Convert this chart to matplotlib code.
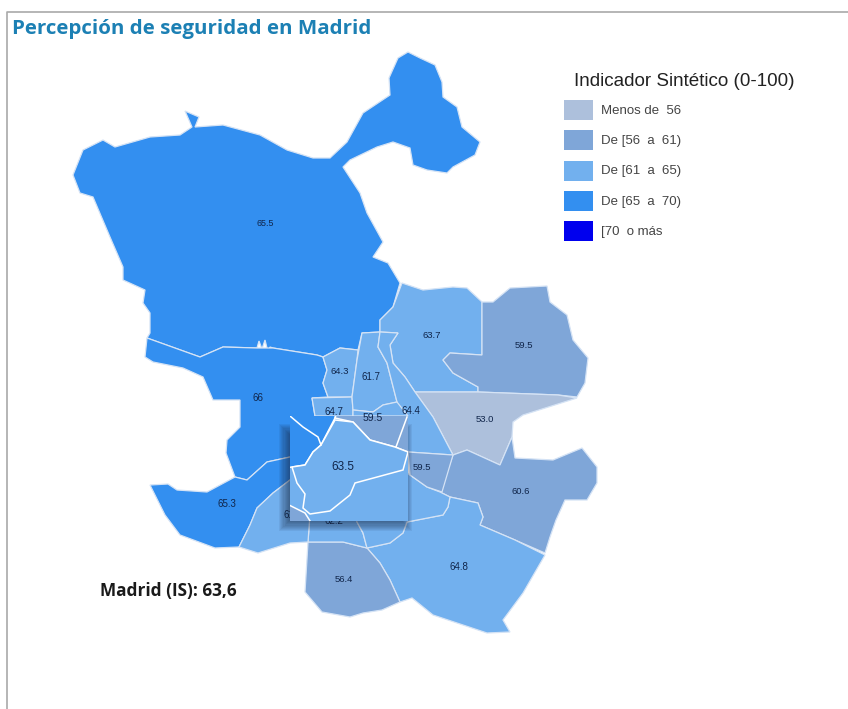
import matplotlib
matplotlib.use("Agg")
import matplotlib.pyplot as plt
from matplotlib.patches import Polygon, Rectangle

# class colours, lowest to highest
C_LOW = '#adc0dc'
C_MID = '#7fa6d8'
C_HIGH = '#72b0ee'
C_TOP = '#338ff0'
C_MAX = '#0000ee'

legend_colors = [C_LOW, C_MID, C_HIGH, C_TOP, C_MAX]
legend_labels = ['Menos de  56', 'De [56  a  61)', 'De [61  a  65)', 'De [65  a  70)', '[70  o más']

# district outlines, traced in picture pixels
fuencarral = [(73, 175), (83, 150), (103, 140), (115, 147), (150, 137), (180, 135), (192, 127), (185, 111),
              (199, 117), (195, 127), (223, 125), (260, 135), (287, 150), (313, 158), (330, 158), (347, 142),
              (363, 113), (390, 95), (389, 78), (398, 58), (408, 52), (420, 58), (435, 65), (442, 82),
              (443, 97), (457, 107), (462, 127), (480, 142), (475, 155), (453, 167), (447, 173), (427, 170),
              (413, 165), (410, 148), (393, 142), (377, 147), (350, 160), (343, 167), (360, 193), (367, 213),
              (383, 242), (373, 257), (388, 263), (400, 283), (393, 307), (380, 320), (380, 332), (362, 333),
              (358, 350), (340, 348), (323, 357), (317, 355), (273, 348), (270, 347), (268, 352), (265, 340),
              (262, 349), (259, 341), (257, 348), (223, 347), (200, 357), (147, 338), (150, 333), (150, 313),
              (143, 303), (145, 290), (123, 280), (123, 267), (110, 237), (93, 197), (80, 193)]
moncloa = [(147, 338), (200, 357), (223, 347), (257, 348), (273, 348), (317, 355), (323, 357), (327, 370),
           (323, 383), (328, 397), (312, 398), (315, 416), (335, 420), (321, 445), (313, 452), (305, 465),
           (290, 457), (267, 462), (247, 480), (235, 477), (226, 453), (227, 440), (240, 427), (240, 400),
           (213, 400), (203, 377), (183, 368), (153, 362), (145, 357)]
latina = [(150, 485), (168, 484), (177, 490), (207, 492), (235, 477), (247, 480), (267, 462), (290, 457),
          (305, 465), (292, 467), (297, 483), (290, 480), (273, 493), (257, 508), (250, 525), (239, 547),
          (215, 548), (180, 535), (165, 515)]
hortaleza = [(402, 283), (423, 290), (453, 287), (467, 288), (482, 302), (482, 355), (450, 353), (443, 360),
             (453, 373), (478, 387), (478, 392), (415, 392), (405, 377), (393, 363), (390, 345), (398, 333),
             (380, 332), (380, 320), (393, 307)]
barajas = [(482, 302), (493, 302), (510, 288), (547, 286), (550, 302), (567, 315), (573, 340), (588, 358),
           (585, 383), (577, 397), (558, 395), (478, 392), (478, 387), (453, 373), (443, 360), (450, 353),
           (482, 355)]
san_blas = [(415, 392), (478, 392), (558, 395), (577, 398), (523, 415), (513, 422), (512, 437), (500, 465),
            (467, 450), (453, 455), (433, 417)]
vicalvaro = [(453, 455), (467, 450), (500, 465), (512, 437), (515, 458), (553, 460), (582, 448), (597, 467),
             (597, 483), (587, 500), (565, 500), (556, 520), (550, 537), (545, 553), (515, 540), (480, 525),
             (483, 517), (478, 503), (450, 497), (440, 492)]
vallecas = [(450, 497), (448, 507), (443, 515), (407, 522), (403, 533), (390, 543), (367, 548), (380, 563),
            (390, 580), (400, 602), (412, 598), (433, 615), (463, 625), (487, 633), (510, 632), (503, 620),
            (523, 593), (545, 555), (515, 540), (480, 525), (483, 517), (478, 503)]
villaverde = [(308, 542), (343, 542), (367, 548), (380, 563), (390, 580), (400, 602), (382, 610), (363, 613),
              (350, 617), (322, 612), (305, 592)]
usera = [(330, 511), (350, 495), (357, 522), (363, 533), (367, 548), (343, 542), (308, 542), (310, 514)]
puente = [(350, 495), (355, 483), (403, 470), (410, 475), (427, 487), (440, 492), (450, 497), (448, 507),
          (443, 515), (407, 522), (403, 533), (390, 543), (367, 548), (363, 533), (357, 522)]
carabanchel = [(239, 547), (250, 525), (257, 508), (273, 493), (290, 480), (297, 483), (305, 494), (303, 508),
               (310, 514), (308, 542), (290, 543), (258, 553)]
tetuan = [(323, 357), (340, 348), (358, 350), (357, 360), (352, 397), (328, 397), (323, 383), (327, 370)]
chamberi = [(312, 398), (352, 397), (353, 410), (353, 416), (315, 416)]
chamartin = [(362, 333), (380, 332), (378, 347), (387, 363), (397, 402), (383, 405), (373, 412), (353, 410),
             (352, 397), (357, 360)]
ciudad_lineal = [(380, 332), (398, 333), (390, 345), (393, 363), (405, 377), (415, 392), (433, 417), (453, 455),
                 (408, 452), (397, 402), (387, 363), (378, 347)]
salamanca = [(353, 410), (373, 412), (383, 405), (397, 402), (408, 416), (353, 416)]
moratalaz = [(408, 452), (453, 455), (442, 492), (427, 487), (410, 475)]

# parts as they look inside the enlarged box
box_dark = [(285, 412), (337, 412), (335, 418), (321, 445), (313, 452), (305, 465), (292, 467), (285, 468)]
box_retiro = [(335, 418), (353, 422), (370, 440), (395, 447), (408, 452), (412, 452), (412, 412), (337, 412)]
box_centro = [(321, 445), (335, 420), (353, 422), (370, 440), (395, 447), (408, 452), (403, 470), (355, 483),
              (350, 495), (330, 511), (310, 514), (303, 508), (305, 494), (297, 483), (292, 467), (305, 465),
              (313, 452)]
box_corner = [(285, 503), (305, 513), (312, 524), (285, 524)]
box_lines = [[(290, 416), (303, 427), (318, 437), (321, 445)], [(407, 417), (396, 447)]]

districts = [fuencarral, moncloa, latina, hortaleza, barajas, san_blas, vicalvaro, vallecas, villaverde, usera,
             puente, carabanchel, tetuan, chamberi, chamartin, ciudad_lineal, salamanca, moratalaz]
district_colors = [C_TOP, C_TOP, C_TOP, C_HIGH, C_MID, C_LOW, C_MID, C_HIGH, C_MID, C_HIGH,
                   C_HIGH, C_HIGH, C_HIGH, C_HIGH, C_HIGH, C_HIGH, C_HIGH, C_MID]

# value labels under the box
value_labels = ['65.5', '66', '65.3', '63.7', '59.5', '53.0', '60.6', '64.8', '56.4', '62.2', '61.7', '64.3',
                '64.7', '61.7', '64.4', '59.5']
value_x = [265, 258, 227, 432, 524, 485, 521, 459, 344, 334, 293, 340, 334, 371, 411, 422]
value_y = [224, 398, 504, 336, 346, 419, 492, 567, 579, 521, 515, 372, 412, 377, 411, 467]
value_sizes = [6.4, 7, 7, 6.8, 6.8, 6.8, 6.8, 7, 6.8, 7, 7, 6.8, 7, 7, 7, 6.8]

fig = plt.figure(figsize=(8.48, 7.09), dpi=100)
ax = fig.add_axes([0, 0, 1, 1])
ax.set_xlim(0, 848)
ax.set_ylim(709, 0)
ax.axis('off')

# page frame
ax.plot([7, 7, 848], [709, 12, 12], color='#a9a9a9', lw=1.2, zorder=0)

for pts, col in zip(districts, district_colors):
    ax.add_patch(Polygon(pts, closed=True, facecolor=col, edgecolor='#d5e3f5', lw=0.9, zorder=1))

for s, x, y, fs in zip(value_labels, value_x, value_y, value_sizes):
    ax.text(x, y, s, fontsize=fs, family='Liberation Sans', color='#10254a', ha='center', va='center', zorder=2)

# blurred shadow of the box, built from stacked faint rectangles
for i in range(12):
    grow = 8 - i * 1.1
    ax.add_patch(Rectangle((287 - grow, 432 - grow), 117 + 2 * grow, 91 + 2 * grow,
                           facecolor='#16223a', edgecolor='none', alpha=0.07, zorder=3))

# enlarged box on top of the map, everything clipped to it
box = Rectangle((290, 416), 118, 105, transform=ax.transData)
ax.add_patch(Rectangle((290, 416), 118, 105, facecolor=C_HIGH, edgecolor='none', zorder=4))
box_parts = [box_dark, box_retiro, box_centro, box_corner]
box_colors = [C_TOP, C_MID, C_HIGH, C_MID]
for pts, col in zip(box_parts, box_colors):
    p = Polygon(pts, closed=True, facecolor=col, edgecolor='white', lw=1.1, zorder=5)
    ax.add_patch(p)
    p.set_clip_path(box)
for line in box_lines:
    xs, ys = zip(*line)
    l, = ax.plot(xs, ys, color='white', lw=1.1, zorder=6)
    l.set_clip_path(box)
ax.text(343, 467, '63.5', fontsize=8.5, family='Liberation Sans', color='#10254a', ha='center', va='center', zorder=7)
ax.text(373, 418, '59.5', fontsize=7.5, family='Liberation Sans', color='#10254a', ha='center', va='center', zorder=7)

# legend
ax.text(574, 81, 'Indicador Sintético (0-100)', fontsize=13.6, family='Liberation Sans', color='#222222',
        va='center', ha='left')
for i, (col, lab) in enumerate(zip(legend_colors, legend_labels)):
    ax.add_patch(Rectangle((564, 100 + 30.3 * i), 29, 20, facecolor=col, edgecolor='none'))
    ax.text(601, 111 + 30.2 * i, lab, fontsize=9.5, family='Liberation Sans', color='#444444', va='center', ha='left')

ax.text(12, 29, 'Percepción de seguridad en Madrid', fontsize=14.75, family='Open Sans', weight='bold',
        color='#1c80b4', va='center', ha='left')
ax.text(100, 591, 'Madrid (IS): 63,6', fontsize=12.4, family='Open Sans', weight='bold', color='#1a1a1a',
        va='center', ha='left')

fig.savefig('out.png', dpi=100)
